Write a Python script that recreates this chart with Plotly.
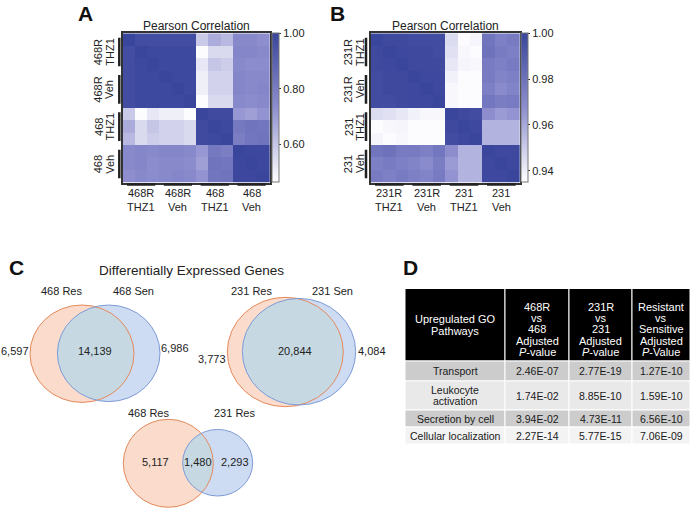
import numpy as np
import plotly.graph_objects as go

W, H = 690, 509
FONT = "Arial, 'Liberation Sans', Helvetica, sans-serif"


def px(x):
    return x / W


def py(y):
    return 1 - y / H


# ---------------- data ----------------
groups_A = [("468R", "THZ1"), ("468R", "Veh"), ("468", "THZ1"), ("468", "Veh")]
groups_B = [("231R", "THZ1"), ("231R", "Veh"), ("231", "THZ1"), ("231", "Veh")]
reps_per_group = 3

corr_A = [
    [1.00, 0.97, 0.97, 0.97, 0.97, 0.97, 0.59, 0.66, 0.63, 0.75, 0.75, 0.73],
    [0.97, 1.00, 0.99, 0.99, 0.99, 0.99, 0.47, 0.55, 0.55, 0.76, 0.76, 0.75],
    [0.97, 0.99, 1.00, 0.99, 0.99, 0.99, 0.52, 0.60, 0.58, 0.75, 0.74, 0.74],
    [0.97, 0.99, 0.99, 1.00, 0.99, 0.99, 0.50, 0.57, 0.57, 0.76, 0.75, 0.75],
    [0.97, 0.99, 0.99, 0.99, 1.00, 0.99, 0.50, 0.57, 0.57, 0.76, 0.75, 0.76],
    [0.97, 0.99, 0.99, 0.99, 0.99, 1.00, 0.47, 0.55, 0.55, 0.75, 0.74, 0.75],
    [0.59, 0.47, 0.52, 0.50, 0.50, 0.47, 1.00, 0.98, 0.98, 0.71, 0.69, 0.72],
    [0.66, 0.55, 0.60, 0.57, 0.57, 0.55, 0.98, 1.00, 0.99, 0.81, 0.83, 0.82],
    [0.63, 0.55, 0.58, 0.57, 0.57, 0.55, 0.98, 0.99, 1.00, 0.79, 0.82, 0.83],
    [0.75, 0.76, 0.75, 0.76, 0.76, 0.75, 0.71, 0.81, 0.79, 1.00, 0.995, 0.995],
    [0.75, 0.76, 0.74, 0.75, 0.75, 0.74, 0.69, 0.83, 0.82, 0.995, 1.00, 0.995],
    [0.73, 0.75, 0.74, 0.75, 0.76, 0.75, 0.72, 0.82, 0.83, 0.995, 0.995, 1.00],
]

corr_B = [
    [1.000, 0.998, 0.998, 0.997, 0.997, 0.997, 0.945, 0.936, 0.938, 0.979, 0.974, 0.976],
    [0.998, 1.000, 0.999, 0.998, 0.998, 0.997, 0.944, 0.937, 0.936, 0.980, 0.976, 0.974],
    [0.998, 0.999, 1.000, 0.998, 0.998, 0.998, 0.942, 0.938, 0.937, 0.976, 0.974, 0.976],
    [0.997, 0.998, 0.998, 1.000, 0.999, 0.999, 0.939, 0.936, 0.936, 0.976, 0.972, 0.974],
    [0.997, 0.998, 0.998, 0.999, 1.000, 0.999, 0.937, 0.936, 0.936, 0.974, 0.969, 0.972],
    [0.997, 0.997, 0.998, 0.999, 0.999, 1.000, 0.937, 0.936, 0.936, 0.978, 0.975, 0.976],
    [0.945, 0.944, 0.942, 0.939, 0.937, 0.937, 1.000, 0.998, 0.997, 0.968, 0.964, 0.966],
    [0.936, 0.937, 0.938, 0.936, 0.936, 0.936, 0.998, 1.000, 0.999, 0.957, 0.957, 0.957],
    [0.938, 0.936, 0.937, 0.936, 0.936, 0.936, 0.997, 0.999, 1.000, 0.957, 0.957, 0.957],
    [0.979, 0.980, 0.976, 0.976, 0.974, 0.978, 0.968, 0.957, 0.957, 1.000, 0.999, 0.999],
    [0.974, 0.976, 0.974, 0.972, 0.969, 0.975, 0.964, 0.957, 0.957, 0.999, 1.000, 0.999],
    [0.976, 0.974, 0.976, 0.974, 0.972, 0.976, 0.966, 0.957, 0.957, 0.999, 0.999, 1.000],
]

cbar_A_ticks = [0.60, 0.80, 1.00]
cbar_B_ticks = [0.94, 0.96, 0.98, 1.00]
zrange_A = [0.462, 1.0]
zrange_B = [0.935, 1.0]

venn_set_names = [("468 Res", "468 Sen"), ("231 Res", "231 Sen"), ("468 Res", "231 Res")]
venn_left_only = [6597, 3773, 5117]
venn_overlap = [14139, 20844, 1480]
venn_right_only = [6986, 4084, 2293]

go_pathways = [["Transport"], ["Leukocyte", "activation"], ["Secretion by cell"], ["Cellular localization"]]
padj_468R_vs_468 = [2.46e-07, 1.74e-02, 3.94e-02, 2.27e-14]
padj_231R_vs_231 = [2.77e-19, 8.85e-10, 4.73e-11, 5.77e-15]
padj_res_vs_sen = [1.27e-10, 1.59e-10, 6.56e-10, 7.06e-09]
table_headers = [
    ["Upregulated GO", "Pathways"],
    ["468R", "vs", "468", "Adjusted", "<i>P</i>-value"],
    ["231R", "vs", "231", "Adjusted", "<i>P</i>-value"],
    ["Resistant", "vs", "Sensitive", "Adjusted", "<i>P</i>-Value"],
]

# ---------------- styling / layout constants ----------------
colorscale = [[0.0, "#ffffff"], [0.5, "#8e8ecf"], [1.0, "#3a469c"]]
hm_top, hm_bot = 33.3, 182.7
panels = [
    dict(x0=122.7, x1=270.0, z=corr_A, groups=groups_A, ticks=cbar_A_ticks,
         zr=zrange_A, cbx=272.0, ylab_x=(98.3, 109.7), ybar_x=119.3),
    dict(x0=370.7, x1=520.0, z=corr_B, groups=groups_B, ticks=cbar_B_ticks,
         zr=zrange_B, cbx=521.0, ylab_x=(348.3, 360.0), ybar_x=366.0),
]

fig = go.Figure()
annotations = []
shapes = []


def txt(x, y, s, size=11, color="#222", bold=False, angle=0, xref="paper", yref="paper"):
    annotations.append(dict(
        x=x, y=y, xref=xref, yref=yref, text=("<b>%s</b>" % s) if bold else s,
        showarrow=False, xanchor="center", yanchor="middle", textangle=angle,
        font=dict(family=FONT, size=size, color=color)))


n = len(corr_A)
idx = list(range(n))
for k, p in enumerate(panels):
    xa = "x" if k == 0 else "x2"
    ya = "y" if k == 0 else "y2"
    fig.add_trace(go.Heatmap(
        z=p["z"], x=idx, y=idx, xaxis=xa, yaxis=ya,
        colorscale=colorscale, zmin=p["zr"][0], zmax=p["zr"][1],
        colorbar=dict(
            x=px(p["cbx"]), xanchor="left", y=py(hm_top), yanchor="top",
            len=(hm_bot - hm_top) / H, lenmode="fraction",
            thickness=7, thicknessmode="pixels", xpad=0, ypad=0,
            outlinewidth=1, outlinecolor="#777",
            tickvals=p["ticks"], ticktext=["{:.2f}".format(t) for t in p["ticks"]],
            ticks="outside", ticklen=2, tickcolor="#333",
            tickfont=dict(family=FONT, size=11, color="#222"),
        ),
        hoverinfo="skip",
    ))
    ax = dict(domain=[px(p["x0"]), px(p["x1"])], range=[-0.5, n - 0.5],
              showticklabels=False, ticks="", showgrid=False, zeroline=False,
              showline=True, mirror=True, linecolor="#333", linewidth=1.5)
    ay = dict(domain=[py(hm_bot), py(hm_top)], range=[n - 0.5, -0.5],
              showticklabels=False, ticks="", showgrid=False, zeroline=False,
              showline=True, mirror=True, linecolor="#333", linewidth=1.5)
    if k == 0:
        ax["anchor"] = "y"
        ay["anchor"] = "x"
        fig.update_layout(xaxis=ax, yaxis=ay)
    else:
        ax["anchor"] = "y2"
        ay["anchor"] = "x2"
        fig.update_layout(xaxis2=ax, yaxis2=ay)

    # title
    txt(px((p["x0"] + p["x1"]) / 2), py(25.7), "Pearson Correlation", size=12)
    # group labels and bars
    for g, (l1, l2) in enumerate(p["groups"]):
        c = g * reps_per_group + 1
        lo = g * reps_per_group - 0.5 + 0.35
        hi = g * reps_per_group + reps_per_group - 0.5 - 0.35
        # bottom labels + bar
        txt(c, py(193.3), l1, size=11, xref=xa)
        txt(c, py(206.9), l2, size=11, xref=xa)
        shapes.append(dict(type="line", xref=xa, yref="paper", x0=lo, x1=hi,
                           y0=py(184.5), y1=py(184.5), line=dict(color="#222", width=2.5)))
        # left labels + bar
        txt(px(p["ylab_x"][0]), c, l1, size=11, angle=-90, yref=ya)
        txt(px(p["ylab_x"][1]), c, l2, size=11, angle=-90, yref=ya)
        shapes.append(dict(type="line", xref="paper", yref=ya, x0=px(p["ybar_x"]),
                           x1=px(p["ybar_x"]), y0=lo, y1=hi, line=dict(color="#222", width=2.5)))

# panel letters
for L, (x, y) in zip("ABCD", [(85, 13.5), (337, 13.5), (16, 267), (410, 267)]):
    txt(px(x), py(y), L, size=21, color="#111", bold=True)

# ---------------- Venn diagrams ----------------
txt(px(191.7), py(270), "Differentially Expressed Genes", size=13.5)

venn_geom = [
    dict(a=(82.0, 353.7, 52.0, 48.7), b=(108.7, 353.3, 51.3, 48.3),
         names=((61.7, 290.7), (133.0, 290.7)),
         nums=((14.5, 351.0), (95.0, 351.0), (175.0, 348.0))),
    dict(a=(285.3, 352.0, 58.0, 54.7), b=(299.0, 351.7, 56.7, 53.3),
         names=((251.7, 290.7), (332.3, 290.7)),
         nums=((211.7, 359.3), (295.0, 351.0), (372.3, 351.0))),
    dict(a=(168.3, 463.3, 45.0, 44.0), b=(217.7, 462.7, 35.0, 33.3),
         names=((148.3, 412.7), (234.3, 412.7)),
         nums=((155.7, 462.3), (197.7, 462.3), (235.0, 462.3))),
]
orange_fill, orange_line = "#fbdccc", "#e5895b"
blue_fill, blue_line = "#cddcf2", "#7f9bd6"
lens_fill = "#c6d9e3"
NONE = "rgba(0,0,0,0)"


def ell_pts(e, m=360):
    cx, cy, rx, ry = e
    t = np.linspace(0, 2 * np.pi, m, endpoint=False)
    return np.c_[cx + rx * np.cos(t), cy + ry * np.sin(t)]


def inside(pts, e):
    cx, cy, rx, ry = e
    return ((pts[:, 0] - cx) / rx) ** 2 + ((pts[:, 1] - cy) / ry) ** 2 <= 1.0


def ell_shape(e, fill, line):
    cx, cy, rx, ry = e
    return dict(type="circle", xref="paper", yref="paper",
                x0=px(cx - rx), x1=px(cx + rx), y0=py(cy + ry), y1=py(cy - ry),
                fillcolor=fill, line=dict(color=line, width=0 if line == NONE else 1),
                layer="above")


for vg, names, l_only, both, r_only in zip(venn_geom, venn_set_names,
                                           venn_left_only, venn_overlap, venn_right_only):
    a, b = vg["a"], vg["b"]
    shapes.append(ell_shape(a, orange_fill, NONE))
    shapes.append(ell_shape(b, blue_fill, NONE))
    pa, pb = ell_pts(a), ell_pts(b)
    pts = np.vstack([pa[inside(pa, b)], pb[inside(pb, a)]])
    ctr = pts.mean(axis=0)
    order = np.argsort(np.arctan2(pts[:, 1] - ctr[1], pts[:, 0] - ctr[0]))
    pts = pts[order]
    path = "M " + " L ".join("%.5f,%.5f" % (px(x), py(y)) for x, y in pts) + " Z"
    shapes.append(dict(type="path", xref="paper", yref="paper", path=path,
                       fillcolor=lens_fill, line=dict(width=0), layer="above"))
    shapes.append(ell_shape(a, NONE, orange_line))
    shapes.append(ell_shape(b, NONE, blue_line))
    for (x, y), s in zip(vg["names"], names):
        txt(px(x), py(y), s, size=11)
    for (x, y), v in zip(vg["nums"], (l_only, both, r_only)):
        txt(px(x), py(y), "{:,}".format(v), size=11)

# ---------------- Table (D) ----------------
col_edges = [405, 505, 569, 632, 690]
hdr_edges = (288.5, 361)
row_edges = [361, 381, 410, 427, 444]
row_fills = ["#cccccc", "#e9e9e9", "#cccccc", "#f3f3f3"]
hdr_line0, hdr_step = 306.7, 11.3
body_step = 11.6

columns = [go_pathways,
           [["{:.2E}".format(v)] for v in padj_468R_vs_468],
           [["{:.2E}".format(v)] for v in padj_231R_vs_231],
           [["{:.2E}".format(v)] for v in padj_res_vs_sen]]

for c in range(4):
    x0, x1 = col_edges[c], col_edges[c + 1]
    xc = px((x0 + x1) / 2)
    shapes.append(dict(type="rect", xref="paper", yref="paper", x0=px(x0), x1=px(x1),
                       y0=py(hdr_edges[1]), y1=py(hdr_edges[0]), fillcolor="#000000",
                       line=dict(color="#ffffff", width=1), layer="below"))
    lines = table_headers[c]
    if len(lines) == 5:
        ys = [hdr_line0 + i * hdr_step for i in range(5)]
    else:
        mid = hdr_line0 + 2 * hdr_step - 4.3
        ys = [mid + (i - (len(lines) - 1) / 2) * hdr_step for i in range(len(lines))]
    for s, y in zip(lines, ys):
        txt(xc, py(y), s, size=11, color="#ffffff")
    for r in range(4):
        y0, y1 = row_edges[r], row_edges[r + 1]
        shapes.append(dict(type="rect", xref="paper", yref="paper", x0=px(x0), x1=px(x1),
                           y0=py(y1), y1=py(y0), fillcolor=row_fills[r],
                           line=dict(color="#ffffff", width=1), layer="below"))
        cell = columns[c][r]
        yc = (y0 + y1) / 2
        for i, s in enumerate(cell):
            txt(xc, py(yc + (i - (len(cell) - 1) / 2) * body_step), s, size=10.5, color="#1a1a1a")

fig.update_layout(
    width=W, height=H, margin=dict(l=0, r=0, t=0, b=0),
    paper_bgcolor="white", plot_bgcolor="white",
    annotations=annotations, shapes=shapes, showlegend=False,
    font=dict(family=FONT),
)
fig.write_html("out.html", config={"displayModeBar": False},
               post_script="document.body.style.margin='0px';")
